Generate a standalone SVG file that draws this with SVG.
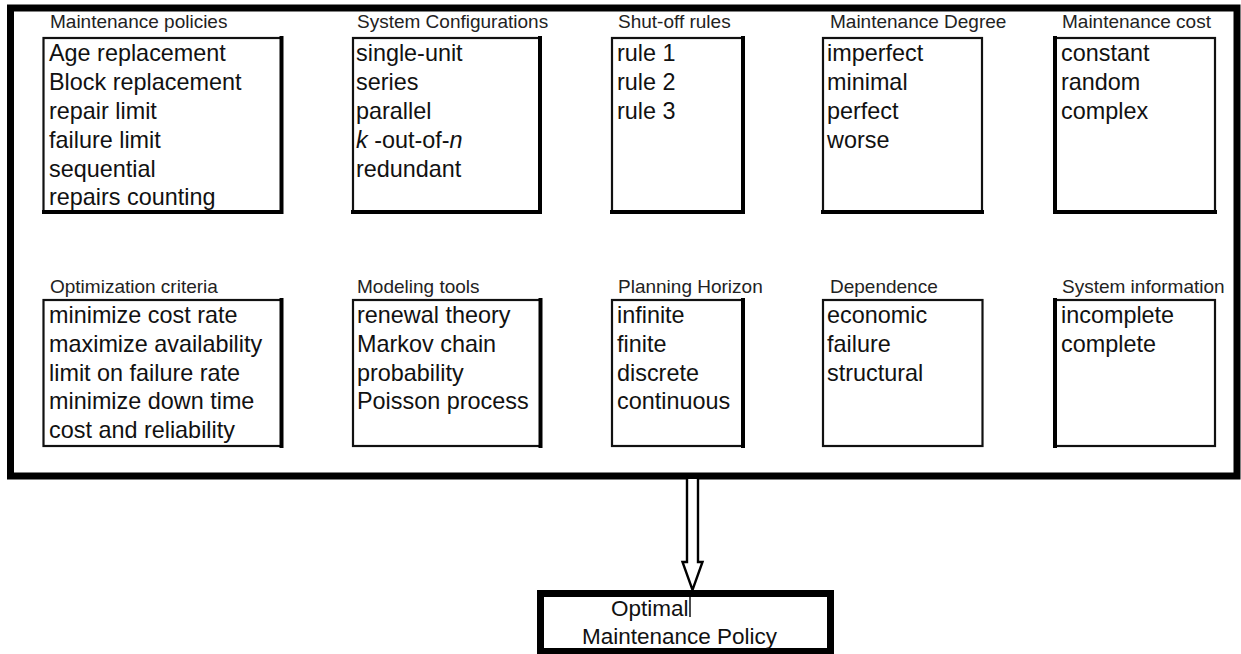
<svg xmlns="http://www.w3.org/2000/svg" width="1241" height="654" viewBox="0 0 1241 654">
  <style>
    .frame { fill: none; stroke: #000; stroke-width: 7; }
    .box { fill: none; stroke: #111; stroke-width: 2.2; }
    .heavy { fill: none; stroke: #000; stroke-width: 4; stroke-linecap: square; }
    .label { font-family: "Liberation Sans", Arial, sans-serif; font-size: 19px; fill: #222; }
    .item { font-family: "Liberation Sans", Arial, sans-serif; font-size: 23.4px; fill: #111; }
    .result { font-family: "Liberation Sans", Arial, sans-serif; font-size: 22.5px; fill: #111; }
    .arrow { fill: #fff; stroke: #000; stroke-width: 2.4; stroke-linejoin: miter; }
  </style>
  <rect width="1241" height="654" fill="#fff"/>

  <!-- outer frame holding all classification categories -->
  <g id="categories">
    <rect class="frame" x="10.5" y="8" width="1226.5" height="468"/>
  </g>

  <!-- row 1 -->
  <g id="maintenance-policies">
    <text class="label" x="50" y="28">Maintenance policies</text>
    <rect class="box" x="43.5" y="38" width="238" height="174"/>
    <path class="heavy" d="M281.5,38 V212 H44"/>
    <text class="item" x="49" y="61">Age replacement</text>
    <text class="item" x="49" y="90">Block replacement</text>
    <text class="item" x="49" y="119">repair limit</text>
    <text class="item" x="49" y="148">failure limit</text>
    <text class="item" x="49" y="177">sequential</text>
    <text class="item" x="49" y="205">repairs counting</text>
  </g>

  <g id="system-configurations">
    <text class="label" x="357" y="28">System Configurations</text>
    <rect class="box" x="353" y="38" width="187" height="174"/>
    <path class="heavy" d="M540,38 V212 H353"/>
    <text class="item" x="356" y="61">single-unit</text>
    <text class="item" x="356" y="90">series</text>
    <text class="item" x="356" y="119">parallel</text>
    <text class="item" x="356" y="148"><tspan font-style="italic">k</tspan> -out-of-<tspan font-style="italic">n</tspan></text>
    <text class="item" x="356" y="177">redundant</text>
  </g>

  <g id="shut-off-rules">
    <text class="label" x="618" y="28">Shut-off rules</text>
    <rect class="box" x="612" y="38" width="131" height="174"/>
    <path class="heavy" d="M743,38 V212 H612"/>
    <text class="item" x="617" y="61">rule 1</text>
    <text class="item" x="617" y="90">rule 2</text>
    <text class="item" x="617" y="119">rule 3</text>
  </g>

  <g id="maintenance-degree">
    <text class="label" x="830" y="28">Maintenance Degree</text>
    <rect class="box" x="823" y="38" width="159" height="174"/>
    <path class="heavy" d="M823,212 H982"/>
    <text class="item" x="827" y="61">imperfect</text>
    <text class="item" x="827" y="90">minimal</text>
    <text class="item" x="827" y="119">perfect</text>
    <text class="item" x="827" y="148">worse</text>
  </g>

  <g id="maintenance-cost">
    <text class="label" x="1062" y="28">Maintenance cost</text>
    <rect class="box" x="1055" y="38" width="160" height="174"/>
    <path class="heavy" d="M1055,38 V212 H1215"/>
    <text class="item" x="1061" y="61">constant</text>
    <text class="item" x="1061" y="90">random</text>
    <text class="item" x="1061" y="119">complex</text>
  </g>

  <!-- row 2 -->
  <g id="optimization-criteria">
    <text class="label" x="50" y="293">Optimization criteria</text>
    <rect class="box" x="43.5" y="300" width="238" height="146"/>
    <path class="heavy" d="M281.5,300 V446"/>
    <text class="item" x="49" y="323">minimize cost rate</text>
    <text class="item" x="49" y="352">maximize availability</text>
    <text class="item" x="49" y="381">limit on failure rate</text>
    <text class="item" x="49" y="409">minimize down time</text>
    <text class="item" x="49" y="438">cost and reliability</text>
  </g>

  <g id="modeling-tools">
    <text class="label" x="357" y="293">Modeling tools</text>
    <rect class="box" x="353" y="300" width="187.5" height="146"/>
    <path class="heavy" d="M540.5,300 V446"/>
    <text class="item" x="357" y="323">renewal theory</text>
    <text class="item" x="357" y="352">Markov chain</text>
    <text class="item" x="357" y="381">probability</text>
    <text class="item" x="357" y="409">Poisson process</text>
  </g>

  <g id="planning-horizon">
    <text class="label" x="618" y="293">Planning Horizon</text>
    <rect class="box" x="612" y="300" width="131" height="146"/>
    <path class="heavy" d="M743,300 V446"/>
    <text class="item" x="617" y="323">infinite</text>
    <text class="item" x="617" y="352">finite</text>
    <text class="item" x="617" y="381">discrete</text>
    <text class="item" x="617" y="409">continuous</text>
  </g>

  <g id="dependence">
    <text class="label" x="830" y="293">Dependence</text>
    <rect class="box" x="823" y="300" width="159.5" height="146"/>
    <text class="item" x="827" y="323">economic</text>
    <text class="item" x="827" y="352">failure</text>
    <text class="item" x="827" y="381">structural</text>
  </g>

  <g id="system-information">
    <text class="label" x="1062" y="293">System information</text>
    <rect class="box" x="1055" y="300" width="160" height="146"/>
    <path class="heavy" d="M1055,300 V446"/>
    <text class="item" x="1061" y="323">incomplete</text>
    <text class="item" x="1061" y="352">complete</text>
  </g>

  <!-- hollow double-line arrow to the result -->
  <g id="connectors">
    <path class="arrow" d="M687,479 V562 H682.5 L692.5,590 L702.5,562 H698 V479"/>
    <line x1="690" y1="590" x2="690" y2="617" stroke="#111" stroke-width="1.5"/>
  </g>

  <g id="optimal-policy">
    <rect class="frame" x="540.5" y="593.5" width="290" height="58"/>
    <text class="result" x="611" y="616">Optimal</text>
    <text class="result" x="582" y="644">Maintenance Policy</text>
  </g>
</svg>
